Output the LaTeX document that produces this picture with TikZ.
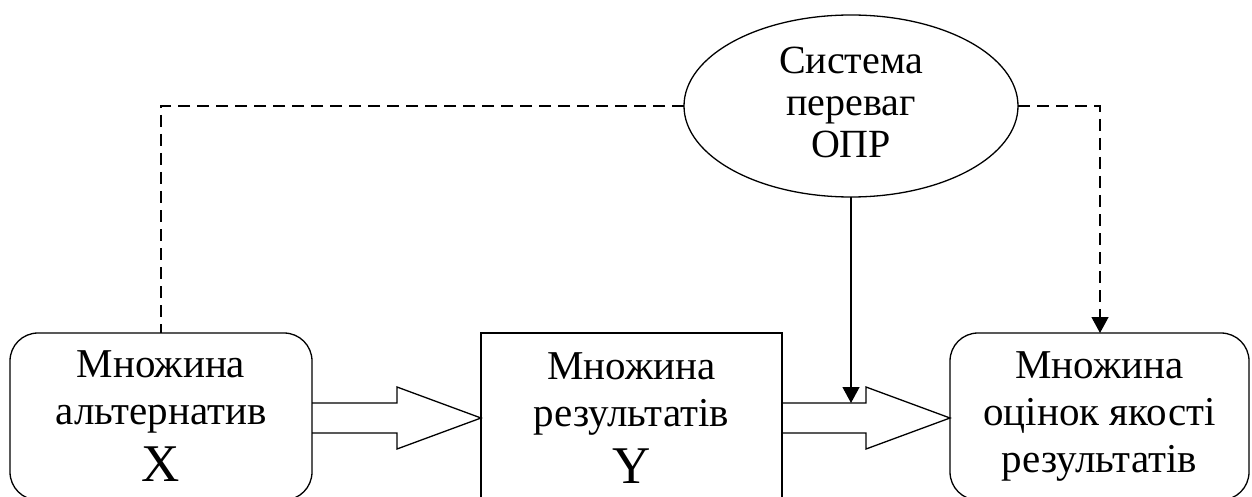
\documentclass[tikz,border=0pt]{standalone}
\usepackage{fontspec}
\setmainfont{Liberation Serif}
\usetikzlibrary{shapes.geometric,arrows.meta,calc}

% outlined block arrow from #1 (tail, on a box edge) to #2 (tip)
\newcommand\blockarrow[2]{%
  \draw[conn] ($(#1)+(0,-15)$) -- ($(#2)+(-84,-15)$) -- ($(#2)+(-84,-31)$)
    -- (#2) -- ($(#2)+(-84,31)$) -- ($(#2)+(-84,15)$) -- ($(#1)+(0,15)$);}

\begin{document}
\begin{tikzpicture}[x=1pt,y=-1pt,
  every node/.style={inner sep=0pt,outer sep=0pt},
  conn/.style={line width=1.3pt,line join=miter},
  lbl/.style={font=\fontsize{41}{47}\selectfont,align=center},
  roundbox/.style={draw,conn,lbl,rounded corners=28pt},
  plainbox/.style={draw,conn,lbl},
  prefs/.style={draw,conn,ellipse},
  prefstext/.style={align=center,yshift=4pt,font=\fontsize{40}{42}\selectfont},
  dashline/.style={conn,dash pattern=on 12pt off 7pt},
  tip/.style={-{Triangle[length=16pt,width=17pt]}}]
\useasboundingbox (0,0) rectangle (1252,497);

% decision maker's preferences
\node[prefs,minimum width=334pt,minimum height=182pt,
  label={[prefstext]center:{Система\\переваг\\ОПР}}] (ell) at (851,106) {};

% the three sets
\node[roundbox,minimum width=302pt,minimum height=167pt] (b1) at (161,416.5)
  {Множина\\альтернатив\\[10pt]{\fontsize{53}{53}\selectfont X}};
\node[plainbox,minimum width=301pt,minimum height=170pt] (b2) at (631.5,418)
  {Множина\\результатів\\[10pt]{\fontsize{53}{53}\selectfont Y}};
\node[roundbox,minimum width=299pt,minimum height=167pt] (b3) at (1099.5,416.5)
  {Множина\\оцінок якості\\результатів};

% block arrows between the sets
\coordinate (a1) at (b1.east |- b2.west);
\coordinate (a2) at (b3.west |- b2.east);
\blockarrow{a1}{b2.west}
\blockarrow{b2.east}{a2}

% influence of the preferences
\coordinate (hit) at ($(b2.east)+(0,-15)$);
\coordinate (rt) at (1100,0);
\draw[conn,tip] (ell.south) -- (ell.south |- hit);
\draw[dashline] (ell.west) -| (b1.north);
\draw[dashline,tip] (ell.east) -| (rt |- b3.north);
\end{tikzpicture}
\end{document}
